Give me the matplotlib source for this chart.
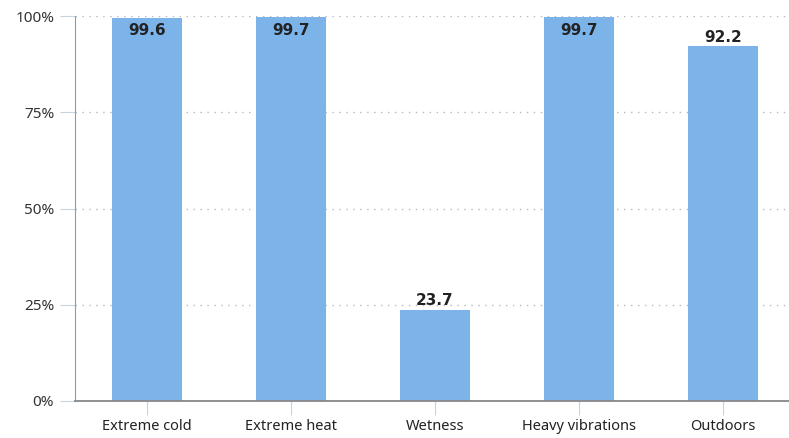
import matplotlib.pyplot as plt
from matplotlib.ticker import FuncFormatter

categories = ['Extreme cold', 'Extreme heat', 'Wetness', 'Heavy vibrations', 'Outdoors']
values = [99.6, 99.7, 23.7, 99.7, 92.2]
yticks = [0, 25, 50, 75, 100]

plt.rcParams['font.family'] = ['Noto Sans', 'DejaVu Sans']

fig = plt.figure(figsize=(7.89, 4.38), dpi=100)
ax = fig.add_axes([75 / 789, 37 / 438, 720 / 789, 385 / 438])

x = list(range(len(categories)))
ax.bar(x, values, width=0.48, color='#7cb4ea', zorder=2)

ax.set_xlim(-0.5, len(categories) - 0.5)
ax.set_ylim(0, 100)
ax.set_yticks(yticks)
ax.yaxis.set_major_formatter(FuncFormatter(lambda v, p: '%d%%' % v))
ax.set_xticks(x)
ax.set_xticklabels(categories)

ax.grid(axis='y', linestyle=(0, (1, 4)), color='#b8b8b8', linewidth=1, zorder=0)
ax.tick_params(axis='y', length=11, color='#c8d4e0', labelsize=11, labelcolor='#333333', pad=4)
ax.tick_params(axis='x', length=10, color='#c8d4e0', labelsize=10.5, labelcolor='#222222', pad=3)

for s in ['top', 'right']:
    ax.spines[s].set_visible(False)
ax.spines['left'].set_color('#999999')
ax.spines['bottom'].set_color('#888888')
ax.spines['bottom'].set_linewidth(1.3)

# labels above the bars, kept inside the plot when the bar is near 100
for xi, v in zip(x, values):
    if v > 95:
        ax.annotate('%.1f' % v, (xi, 100), xytext=(0, -5), textcoords='offset points',
                    ha='center', va='top', fontsize=11, fontweight='bold',
                    family='DejaVu Sans', color='#222222')
    else:
        ax.annotate('%.1f' % v, (xi, v), xytext=(0, 1), textcoords='offset points',
                    ha='center', va='bottom', fontsize=11, fontweight='bold',
                    family='DejaVu Sans', color='#222222')

fig.savefig('out.png', dpi=100)
